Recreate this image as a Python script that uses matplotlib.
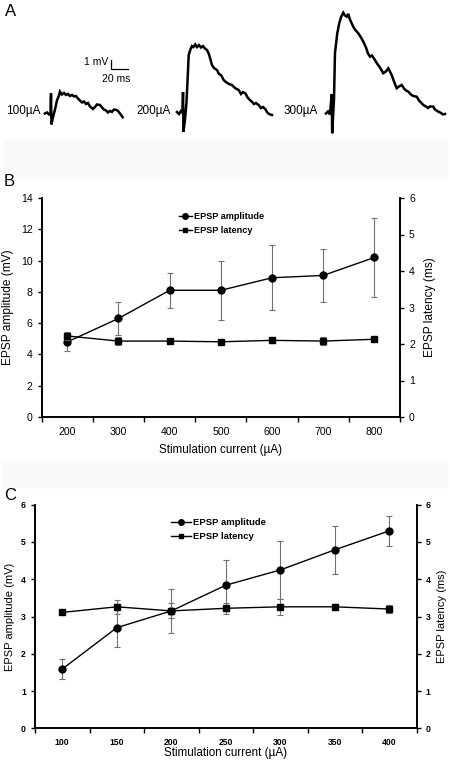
import matplotlib
matplotlib.use("Agg")
import matplotlib.pyplot as plt
from matplotlib.patches import Rectangle
import numpy as np

plt.rcParams['font.family'] = ['Liberation Sans', 'DejaVu Sans']

# ---- panel A: example EPSP traces (time in ms, voltage in mV) ----
trace_labels = ['100µA', '200µA', '300µA']
t1 = [0, 2.4, 4.7, 6.5, 7.1, 7.6, 9.4, 11.8, 14.1, 16.5, 17.6, 20, 22.4, 24.7, 27.1, 29.4, 31.8,
      34.1, 36.5, 38.8, 41.2, 43.5, 45.9, 48.2, 50.6, 52.9, 56.5, 58.8, 61.2, 64.7, 67.1, 69.4,
      71.8, 74.1, 76.5, 78.8, 81.2, 84.3, 85.9, 88.2, 91.4]
v1 = [0, 0.11, -0.11, 0.06, 2.22, -1.22, -0.44, 0.44, 1.44, 2.0, 2.42, 2.11, 2.28, 2.06, 2.17,
      1.94, 2.06, 1.89, 1.94, 1.67, 1.44, 1.22, 1.33, 1.06, 1.17, 0.78, 0.5, 0.72, 1.0, 0.94,
      0.67, 0.44, 0.33, 0.11, 0.28, 0.17, 0.44, 0.39, 0.28, 0.0, -0.42]
t2 = [0, 2.4, 4.7, 6.5, 7.1, 7.6, 9.4, 11.2, 12.9, 13.8, 15.6, 17.6, 19.4, 21.5, 23.5, 25.9,
      28.2, 30.6, 32.9, 35.3, 37.6, 41.2, 43.5, 47.1, 49.4, 51.8, 54.9, 57.6, 61.2, 64.7, 68.2,
      72.6, 75.3, 77.6, 80.4, 83.5, 85.9, 88.2, 90.6, 92.9, 96.1, 98.8, 101.2, 103.9, 105.9,
      108.2, 111.8]
v2 = [0, -0.22, 0.11, -0.11, 2.22, -2.19, -0.89, 1.11, 4.44, 6.33, 6.89, 7.33, 7.22, 7.52,
      7.22, 7.44, 7.17, 7.33, 7.06, 6.89, 6.44, 5.22, 4.89, 4.67, 4.22, 4.11, 3.56, 3.33, 3.11,
      3.0, 2.67, 2.44, 2.0, 2.22, 2.08, 1.56, 1.33, 1.14, 0.89, 1.0, 0.78, 0.44, 0.56, 0.33, 0,
      -0.22, -0.33]
t3 = [0, 2.4, 4.7, 6.7, 7.3, 9.4, 10.6, 13.3, 15.6, 17.6, 20.4, 22.4, 24.4, 26.2, 28.2, 32.1,
      34.1, 38, 41.2, 43.9, 47.1, 49.4, 51.8, 54.1, 57.6, 60, 63.5, 67.4, 70.6, 73.3, 77.3, 80,
      83.2, 85.9, 89.1, 91.8, 94.1, 96.8, 100, 102.4, 106.7, 109.4, 111.8, 114.5, 117.6, 120,
      122.4, 126.2, 128.2, 132.1, 135.3, 137.6, 140]
v3 = [0, 0.22, -0.11, 2.13, -2.2, 1.5, 6.72, 8.91, 10.02, 10.67, 11.2, 10.89, 10.76, 11.06,
      10.44, 9.64, 9.33, 8.91, 8.44, 7.98, 7.33, 6.67, 6.31, 6.44, 5.94, 5.56, 5.11, 4.47, 4.67,
      5.02, 4.28, 3.56, 2.8, 3.0, 3.17, 2.78, 2.56, 2.42, 2.11, 1.94, 1.87, 1.44, 1.22, 0.94,
      0.78, 0.61, 0.78, 0.76, 0.44, 0.2, 0.06, -0.11, -0.06]

# ---- panel B ----
currents_b = [200, 300, 400, 500, 600, 700, 800]
amp_b = [4.8, 6.3, 8.1, 8.1, 8.9, 9.05, 10.2]
amp_b_err = [0.55, 1.05, 1.12, 1.88, 2.07, 1.7, 2.5]
lat_b = [2.22, 2.08, 2.08, 2.06, 2.1, 2.08, 2.13]
lat_b_err = [0.12, 0.12, 0.05, 0.05, 0.06, 0.1, 0.02]

# ---- panel C ----
currents_c = [100, 150, 200, 250, 300, 350, 400]
amp_c = [1.59, 2.7, 3.15, 3.84, 4.25, 4.79, 5.3]
amp_c_err = [0.28, 0.52, 0.6, 0.68, 0.77, 0.65, 0.41]
lat_c = [3.11, 3.26, 3.15, 3.22, 3.26, 3.26, 3.2]
lat_c_err = [0.07, 0.18, 0.2, 0.14, 0.22, 0.08, 0.1]

W, H = 450, 767
fig = plt.figure(figsize=(W / 100, H / 100), dpi=100)

# faint grey strips of the scanned figure
for y0, y1, x0, x1 in [(139, 176, 4, 447), (463, 487, 2, 447)]:
    fig.patches.append(Rectangle((x0 / W, 1 - y1 / H), (x1 - x0) / W, (y1 - y0) / H,
                                 transform=fig.transFigure, color='#f9f9f9', zorder=0))

# panel A axes: 20 ms = 17 px, 1 mV = 9 px
axA = fig.add_axes([0, 1 - 150 / H, 1, 150 / H])
axA.set_xlim(0, W * 20 / 17)
axA.set_ylim(0, 150 / 9)
axA.axis('off')
starts = [(52.9, 4.06), (208.2, 4.22), (383.5, 4.06)]
for (t, v), (x0, y0) in zip([(t1, v1), (t2, v2), (t3, v3)], starts):
    axA.plot(np.array(t) + x0, np.array(v) + y0, color='black', lw=1.8, solid_joinstyle='miter')
label_x = [7, 161, 333]
for lab, lx in zip(trace_labels, label_x):
    axA.text(lx, 4.3, lab, fontsize=8.5, va='center', ha='left')
# scale bar
axA.plot([130.6, 130.6, 150.6], [10.0, 9.0, 9.0], color='black', lw=0.9)
axA.text(127, 9.75, '1 mV', fontsize=7.5, ha='right', va='center')
axA.text(137, 7.9, '20 ms', fontsize=7.5, ha='center', va='center')

fig.text(5 / W, 1 - 12 / H, 'A', fontsize=12, va='center', ha='left')
fig.text(4 / W, 1 - 182 / H, 'B', fontsize=12, va='center', ha='left')
fig.text(4 / W, 1 - 496 / H, 'C', fontsize=12, va='center', ha='left')


def dual_panel(rect, cats, amp, amp_err, lat, lat_err, ylim_l, yticks_l,
               tick_fs, tick_weight, ylabel_fs, xlabel_fs, ms_c, ms_s, leg_anchor, leg_fs,
               leg_hl, ylabel_xl, ylabel_xr, xlabel_y):
    ax = fig.add_axes(rect)
    ax2 = ax.twinx()
    x = np.arange(len(cats))
    ax.errorbar(x, amp, yerr=amp_err, fmt='none', ecolor='#707070', elinewidth=0.8,
                capsize=2.2, capthick=0.8, zorder=2)
    ax2.errorbar(x, lat, yerr=lat_err, fmt='none', ecolor='#707070', elinewidth=0.8,
                 capsize=2.2, capthick=0.8, zorder=2)
    l1, = ax.plot(x, amp, color='black', lw=1.0, marker='o', ms=ms_c, zorder=3,
                  label='EPSP amplitude')
    l2, = ax2.plot(x, lat, color='black', lw=1.0, marker='s', ms=ms_s, zorder=3,
                   label='EPSP latency')
    ax.set_xlim(-0.5, len(cats) - 0.5)
    ax.set_ylim(*ylim_l)
    ax2.set_ylim(0, 6)
    ax.set_yticks(yticks_l)
    ax2.set_yticks(range(7))
    ax.set_xticks(np.arange(len(cats) + 1) - 0.5)
    ax.set_xticklabels([])
    ax.set_xticks(x, minor=True)
    ax.set_xticklabels([str(c) for c in cats], minor=True)
    ax.tick_params(axis='x', which='minor', length=0, pad=7)
    ax.tick_params(axis='x', which='major', length=3.5, width=1)
    ax.tick_params(axis='y', length=3, width=1)
    ax2.tick_params(axis='y', length=3, width=1)
    for a in (ax, ax2):
        a.spines['top'].set_visible(False)
        for s in ('left', 'right', 'bottom'):
            a.spines[s].set_linewidth(1.2)
        for lab in a.get_xticklabels(minor=True) + a.get_yticklabels():
            lab.set_fontsize(tick_fs)
            lab.set_fontweight(tick_weight)
    ax.set_ylabel('EPSP amplitude (mV)', fontsize=ylabel_fs)
    ax2.set_ylabel('EPSP latency (ms)', fontsize=ylabel_fs, rotation=90)
    ax.yaxis.set_label_coords(ylabel_xl, 0.5)
    ax2.yaxis.set_label_coords(ylabel_xr, 0.5)
    ax.set_xlabel('Stimulation current (µA)', fontsize=xlabel_fs)
    ax.xaxis.set_label_coords(0.5, xlabel_y)
    leg = ax.legend([l1, l2], ['EPSP amplitude', 'EPSP latency'], loc='upper left',
                    bbox_to_anchor=leg_anchor, frameon=False, borderpad=0,
                    handlelength=leg_hl, handletextpad=0.2, labelspacing=0.55,
                    prop={'size': leg_fs, 'weight': 'bold'}, markerscale=0.8)
    leg.set_zorder(5)
    return ax, ax2


dual_panel([41.7 / W, 1 - 417 / H, (400 - 41.7) / W, (417 - 198) / H],
           currents_b, amp_b, amp_b_err, lat_b, lat_b_err, (0, 14), range(0, 15, 2),
           7.6, 'normal', 8.6, 8.4, 5, 4, (0.37, 0.958), 6.6, 1.4, -0.077, 1.068, -0.125)
dual_panel([35 / W, 1 - 728.3 / H, (416.7 - 35) / W, (728.3 - 504.7) / H],
           currents_c, amp_c, amp_c_err, lat_c, lat_c_err, (0, 6), range(0, 7),
           6.2, 'bold', 8, 8.4, 5, 4, (0.345, 0.962), 6.8, 2.1, -0.052, 1.053, -0.084)

fig.savefig('out.png', dpi=100)
